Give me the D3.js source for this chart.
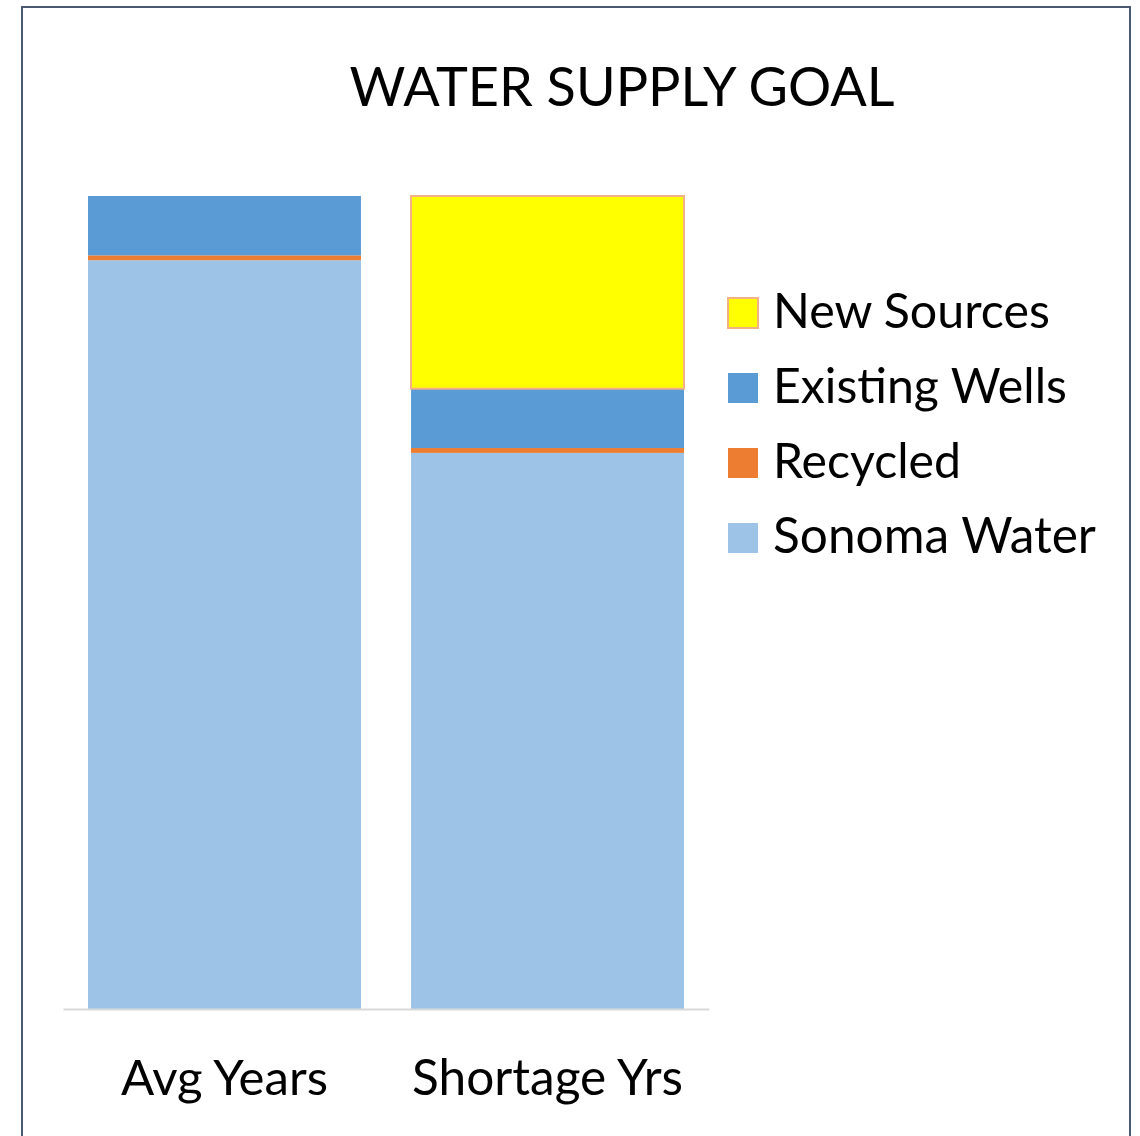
<!DOCTYPE html>
<html>
<head>
<meta charset="utf-8">
<script src="https://cdn.jsdelivr.net/npm/d3@7"></script>
<style>
    html, body { margin: 0; padding: 0; background: #fff; }
    svg { display: block; }
    text { font-family: Lato, "Open Sans", sans-serif; fill: #000; }
</style>
</head>
<body>
<div id="chart"></div>
<script>
// Categories and series (percent of total goal)
var categories = ["Avg Years", "Shortage Yrs"];
var seriesNames = ["Sonoma Water", "Recycled", "Existing Wells", "New Sources"];
var sonomaWater = [92.1, 68.4];
var recycled = [0.6, 0.6];
var existingWells = [7.3, 7.3];
var newSources = [0, 23.7];
var legendOrder = ["New Sources", "Existing Wells", "Recycled", "Sonoma Water"];

var W = 1140, H = 1136;

// Colours per series
var COLORS = {
    "Sonoma Water": "#9dc3e6",
    "Recycled": "#ed7d31",
    "Existing Wells": "#5b9bd5",
    "New Sources": "#ffff00"
};
var STROKES = { "New Sources": "#f4b183" };

var svg = d3.select("#chart").append("svg")
    .attr("width", W)
    .attr("height", H);

// Frame
svg.append("rect")
    .attr("x", 22)
    .attr("y", 7)
    .attr("width", 1108)
    .attr("height", 1200)
    .attr("fill", "none")
    .attr("stroke", "#4a5872")
    .attr("stroke-width", 2);

// Helper: size text so it spans a given width
function fitText(sel, width) {
    var base = 40;
    sel.style("font-size", base + "px");
    var w = sel.node().getComputedTextLength();
    sel.style("font-size", (base * width / w) + "px");
}

// Title
var title = svg.append("text")
    .attr("x", 622)
    .attr("y", 106)
    .attr("text-anchor", "middle")
    .text("WATER SUPPLY GOAL");
fitText(title, 545);

// Scales
var x = d3.scaleBand()
    .domain(categories)
    .range([63, 709])
    .paddingInner(0.155)
    .paddingOuter(0.0774);

var y = d3.scaleLinear()
    .domain([0, 100])
    .range([1009, 196]);

// Build stack table
var table = categories.map(function(c, i) {
    return {
        category: c,
        "Sonoma Water": sonomaWater[i],
        "Recycled": recycled[i],
        "Existing Wells": existingWells[i],
        "New Sources": newSources[i]
    };
});
var stacked = d3.stack().keys(seriesNames)(table);

var layers = svg.append("g")
    .attr("class", "bars")
    .selectAll("g")
    .data(stacked)
    .enter().append("g")
        .attr("fill", function(d) { return COLORS[d.key]; })
        .attr("stroke", function(d) { return STROKES[d.key] || "none"; })
        .attr("stroke-width", 2);

layers.selectAll("rect")
    .data(function(d) { return d.filter(function(v) { return v[1] - v[0] > 0; }); })
    .enter().append("rect")
        .attr("x", function(d) { return x(d.data.category); })
        .attr("width", x.bandwidth())
        .attr("y", function(d) { return y(d[1]); })
        .attr("height", function(d) { return y(d[0]) - y(d[1]); });

// Category axis (no ticks, just baseline + labels)
var axis = svg.append("g")
    .attr("transform", "translate(0," + y(0) + ")")
    .call(d3.axisBottom(x).tickSize(0).tickPadding(86));
axis.select(".domain")
    .attr("stroke", "#d9d9d9")
    .attr("stroke-width", 2);
axis.selectAll(".tick text")
    .attr("dy", 0)
    .style("font-family", "Lato, 'Open Sans', sans-serif")
    .style("fill", "#000")
    .each(function(d, i) {
        fitText(d3.select(this), [207, 271][i]);
    });

// Legend
var legend = svg.append("g")
    .attr("class", "legend")
    .selectAll("g")
    .data(legendOrder)
    .enter().append("g")
        .attr("transform", function(d, i) { return "translate(728," + (298 + i * 75) + ")"; });

legend.append("rect")
    .attr("width", 30)
    .attr("height", 30)
    .attr("fill", function(d) { return COLORS[d]; })
    .attr("stroke", function(d) { return STROKES[d] || "none"; })
    .attr("stroke-width", 2);

legend.append("text")
    .attr("x", 45)
    .attr("y", 30)
    .text(function(d) { return d; })
    .each(function(d) {
        var widths = { "New Sources": 277, "Existing Wells": 294, "Recycled": 188, "Sonoma Water": 323 };
        fitText(d3.select(this), widths[d]);
    });
</script>
</body>
</html>
